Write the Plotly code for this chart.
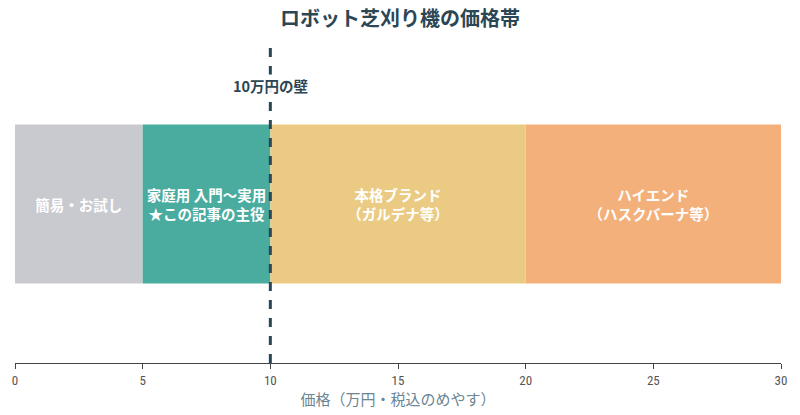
import plotly.graph_objects as go

segments = ["簡易・お試し", "家庭用 入門〜実用<br>★この記事の主役", "本格ブランド<br>（ガルデナ等）", "ハイエンド<br>（ハスクバーナ等）"]
starts = [0, 5, 10, 20]
widths = [5, 5, 10, 10]
colors = ["#c8cacf", "#4aab9f", "#ebcb83", "#f4b07a"]
wall_value = 10
wall_label = "10万円の壁"
tick_vals = [0, 5, 10, 15, 20, 25, 30]

FONT = "Noto Sans CJK JP"

fig = go.Figure()
for name, s, w, c in zip(segments, starts, widths, colors):
    fig.add_trace(go.Bar(
        x=[w], y=[0], base=[s], orientation="h", width=1,
        marker=dict(color=c, line=dict(width=0)),
        text=[name], textposition="inside", insidetextanchor="middle",
        textfont=dict(color="white", size=14.5, family=FONT, weight="bold"),
        hoverinfo="skip", showlegend=False,
    ))

fig.add_shape(type="line", x0=wall_value, x1=wall_value, y0=0, y1=1, yref="paper", xref="x",
              line=dict(color="#2b4654", width=3, dash="dash"))
fig.add_annotation(x=wall_value, y=-0.67, xref="x", yref="y", text=wall_label, showarrow=False,
                   yanchor="bottom", bgcolor="rgba(255,255,255,0.9)", borderpad=0,
                   font=dict(size=14.5, color="#2b4654", family=FONT, weight="bold"))

fig.update_layout(
    width=800, height=415,
    margin=dict(l=12, r=19, t=45, b=52),
    paper_bgcolor="white", plot_bgcolor="white",
    barmode="overlay",
    title=dict(text="ロボット芝刈り機の価格帯", x=0.5, xanchor="center", y=0.955, yanchor="middle",
               font=dict(size=20, color="#2b4654", family=FONT, weight="bold")),
    xaxis=dict(range=[0, 30], tickvals=tick_vals, showgrid=False, zeroline=False,
               showline=True, linecolor="#444", linewidth=1, ticks="outside", ticklen=5,
               tickcolor="#444", tickfont=dict(size=13, color="#555", family="Roboto Condensed, Roboto"),
               title=dict(text="価格（万円・税込のめやす）", font=dict(size=15, color="#6b8592", family=FONT),
                          standoff=5)),
    yaxis=dict(range=[1, -1], visible=False, showgrid=False, zeroline=False),
    font=dict(family=FONT),
)

fig.write_html("out.html")
